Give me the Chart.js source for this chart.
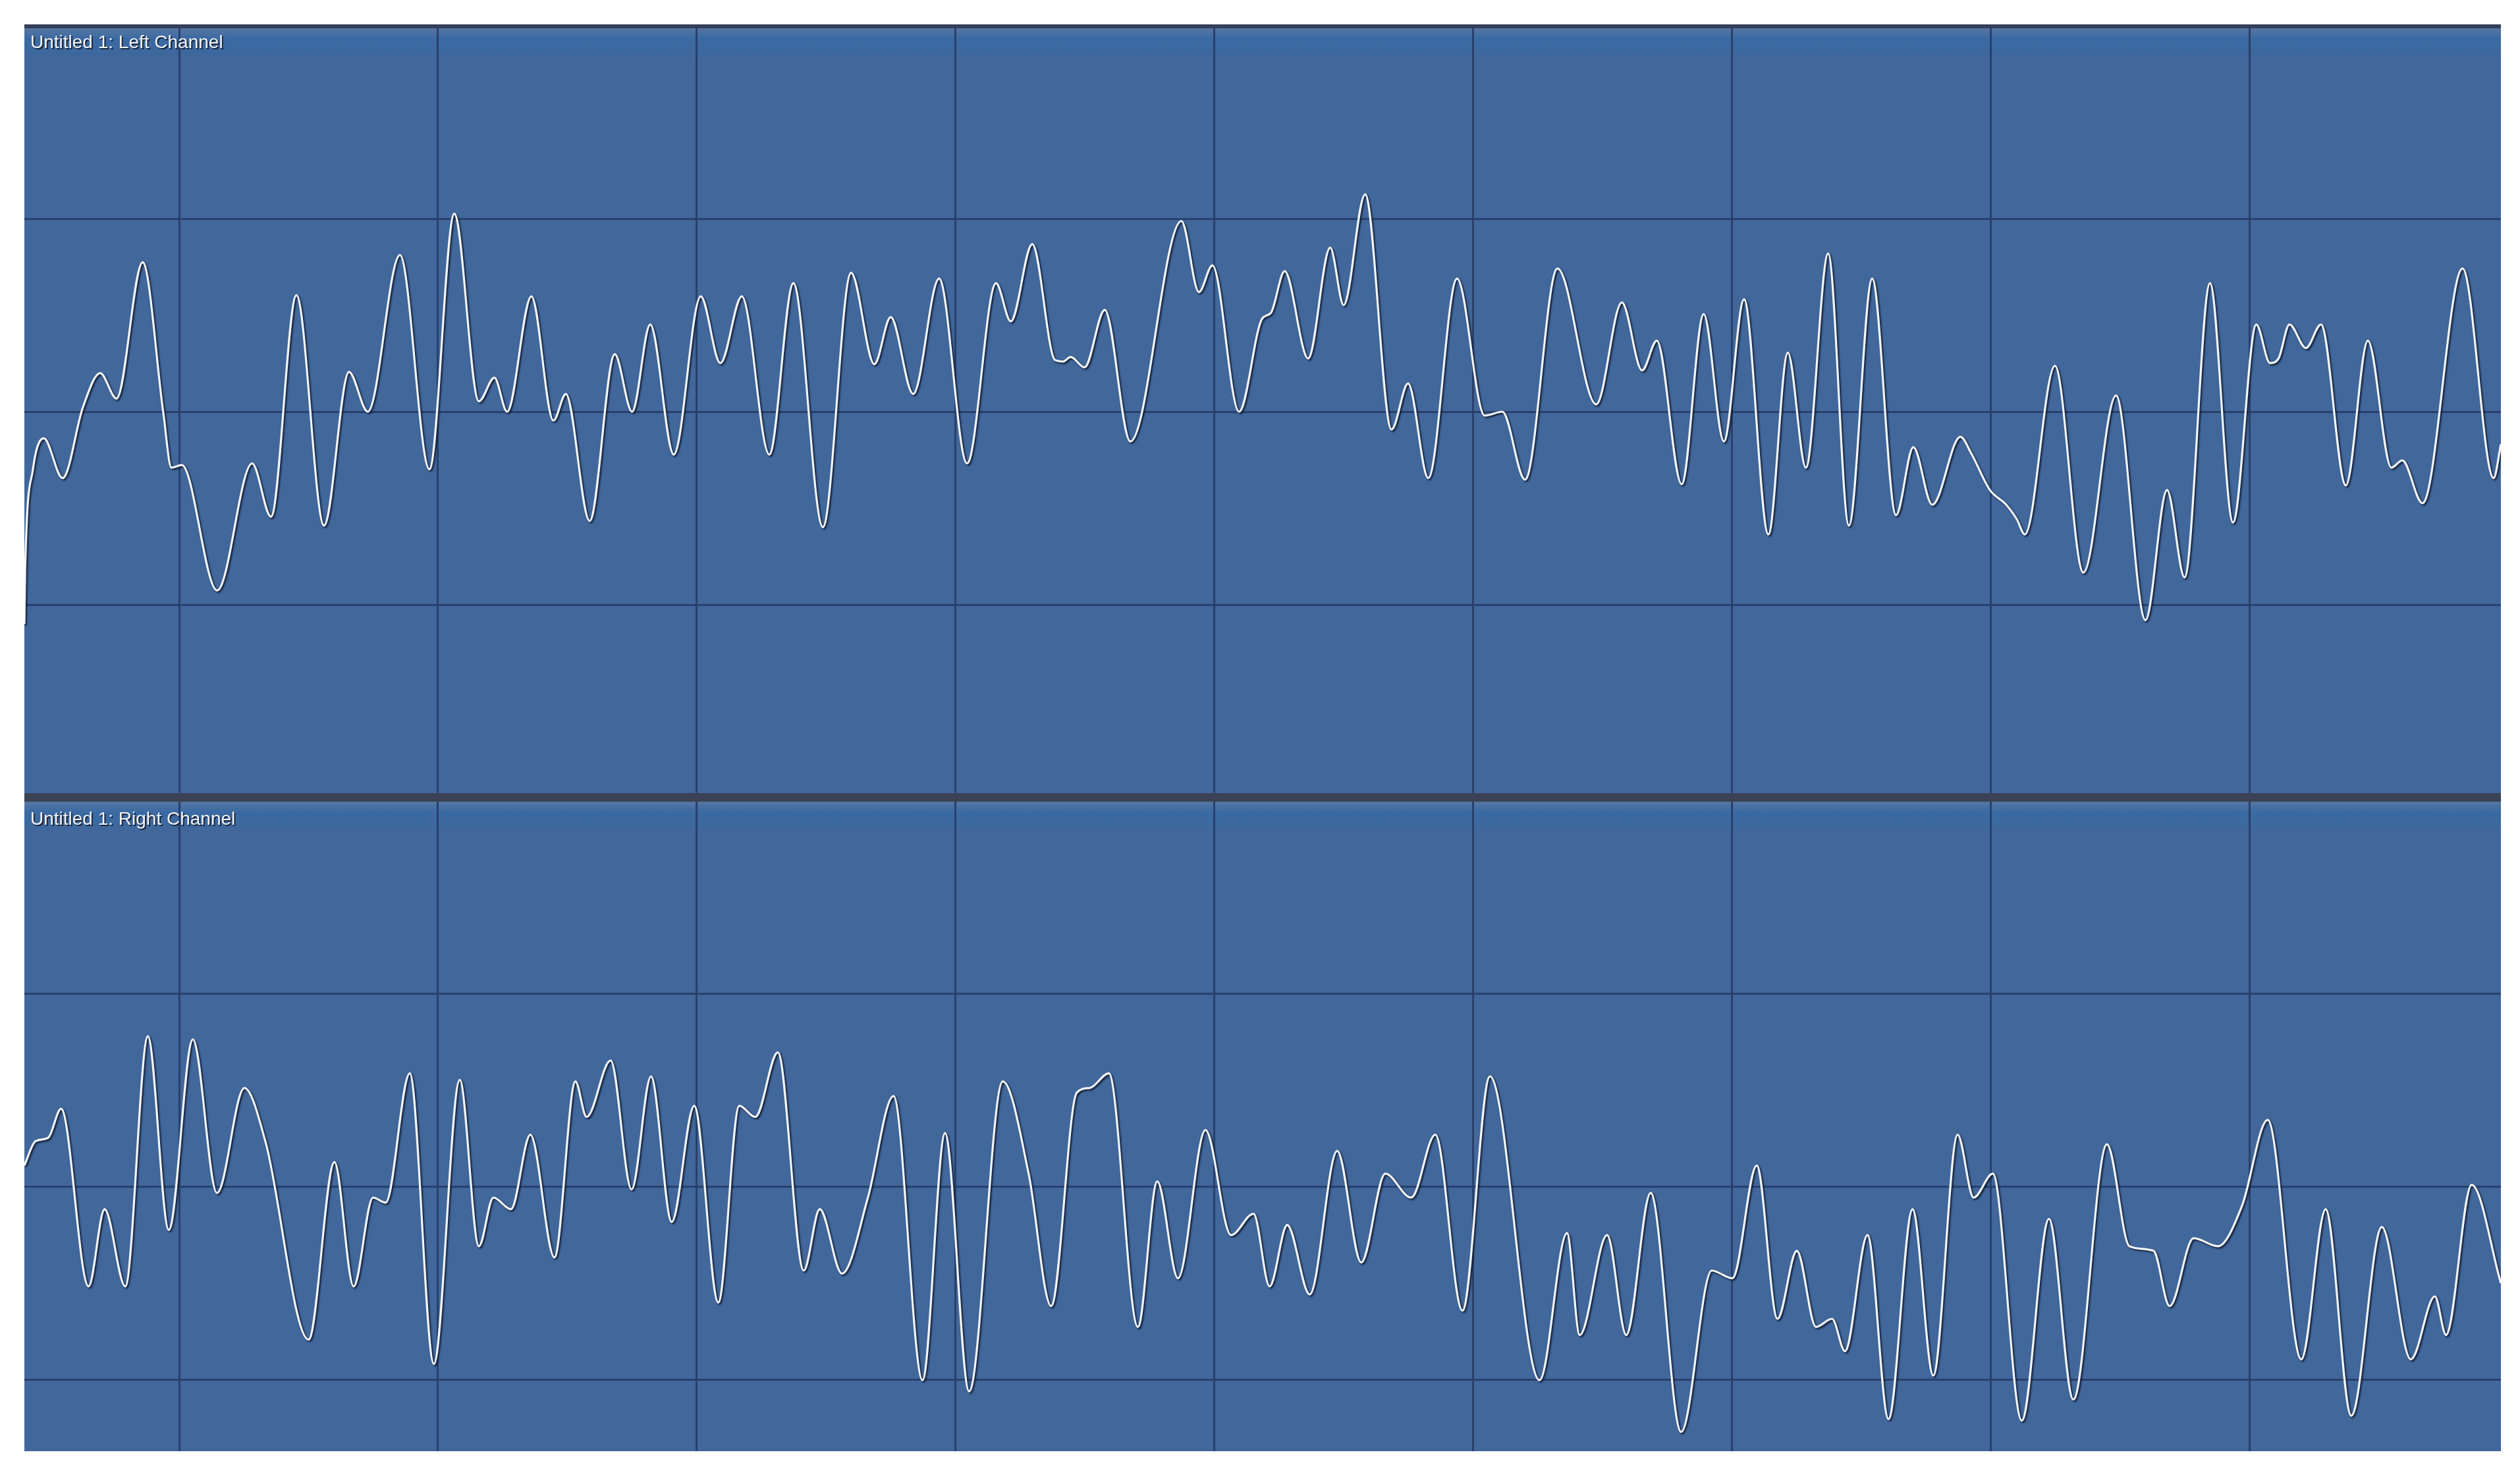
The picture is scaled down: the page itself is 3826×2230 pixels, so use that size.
<!DOCTYPE html>
<html>
<head>
<meta charset="utf-8">
<script src="https://cdn.jsdelivr.net/npm/chart.js@4.4.1/dist/chart.umd.min.js"></script>
<style>
  html, body { margin:0; padding:0; background:#ffffff; }
  body { width:3826px; height:2230px; position:relative; overflow:hidden; }
  .pane { position:absolute; left:37px; width:3760px; }
  .pane canvas { display:block; }
  .bar { position:absolute; left:37px; width:3760px; z-index:5; }
  .ttl { position:absolute; left:46px; z-index:6; font-family:"Liberation Sans", Arial, sans-serif;
         font-size:28px; line-height:28px; color:#f2f4f6; white-space:nowrap;
         text-shadow:2px 2px 0 #1a2740, 1px 1px 1px #1a2740; }
</style>
</head>
<body>
<div class="pane" style="top:39px;height:1172px;"><canvas id="left" width="3760" height="1172"></canvas></div>
<div class="pane" style="top:1215px;height:988px;"><canvas id="right" width="3760" height="988"></canvas></div>
<div class="bar" style="top:37px;height:6px;background:#343f5a;"></div>
<div class="bar" style="top:1204px;height:13px;background:#3b4254;"></div>
<div class="ttl" id="t1" style="top:50px;">Untitled 1: Left Channel</div>
<div class="ttl" id="t2" style="top:1229px;">Untitled 1: Right Channel</div>
<script>
// ---------- DATA ----------
const channelTitles = ["Untitled 1: Left Channel", "Untitled 1: Right Channel"];
const timeMin = 40.2;
const timeMax = 997;
const timeGrid = [100, 200, 300, 400, 500, 600, 700, 800, 900];
const ampGrid = [-0.5, 0, 0.5];

const leftX = [40.2, 40.5, 43.5, 47.7, 55.0, 62.8, 69.5, 75.8, 85.9, 93.9, 97.0, 101.0, 114.7, 128.2, 135.5, 145.3, 156.0, 165.6, 172.9, 185.3, 196.7,
  206.3, 215.8, 221.8, 226.7, 236.1, 244.6, 249.4, 258.6, 268.3, 275.0, 282.0, 291.1, 301.5, 309.1, 317.4, 328.0, 337.3, 348.7, 359.6,
  368.6, 374.9, 383.6, 393.6, 404.4, 415.6, 421.3, 429.6, 438.4, 441.5, 444.4, 449.8, 457.6, 467.5, 487.2, 494.0, 499.2, 509.5, 518.4,
  521.8, 527.1, 536.2, 544.7, 549.9, 558.2, 568.4, 574.8, 582.6, 593.7, 604.4, 611.2, 620.0, 632.5, 647.5, 657.4, 665.2, 670.9, 680.5,
  689.0, 696.8, 704.6, 714.0, 721.5, 728.5, 737.1, 745.1, 754.1, 763.3, 770.0, 777.3, 788.2, 792.3, 799.6, 805.9, 810.0, 813.1, 824.7, 835.7,
  848.3, 859.7, 868.0, 874.8, 884.6, 893.5, 902.5, 907.8, 911.1, 915.3, 921.7, 927.5, 937.1, 945.6, 954.7, 958.9, 966.7, 982.2, 994.2, 997.0];
const leftY = [-0.55, -0.41, -0.15, -0.069, -0.172, 0.011, 0.10, 0.034, 0.387, -0.004, -0.145, -0.138, -0.463, -0.134, -0.272, 0.302, -0.295, 0.103, 0.0, 0.406, -0.149,
  0.513, 0.027, 0.088, 0.0, 0.299, -0.023, 0.046, -0.283, 0.149, 0.0, 0.226, -0.111, 0.299, 0.126, 0.299, -0.111, 0.333, -0.299, 0.36,
  0.123, 0.245, 0.046, 0.345, -0.134, 0.333, 0.234, 0.434, 0.134, 0.13, 0.142, 0.115, 0.264, -0.077, 0.494, 0.31, 0.379, 0.0, 0.241,
  0.256, 0.364, 0.138, 0.425, 0.276, 0.563, -0.046, 0.073, -0.172, 0.345, -0.01, 0.0, -0.176, 0.371, 0.019, 0.283, 0.107, 0.184, -0.188,
  0.253, -0.077, 0.291, -0.318, 0.153, -0.145, 0.41, -0.295, 0.345, -0.268, -0.092, -0.241, -0.065, -0.107, -0.203, -0.241, -0.279, -0.318, 0.119, -0.417,
  0.042, -0.54, -0.203, -0.429, 0.333, -0.287, 0.226, 0.126, 0.138, 0.226, 0.165, 0.226, -0.191, 0.184, -0.145, -0.126, -0.237, 0.371, -0.172, -0.084];

const rightX = [40.2, 44.5, 49.4, 54.4, 65.0, 71.2, 79.2, 87.9, 96.0, 105.3, 114.6, 125.2, 133.3, 150.0, 160.0, 167.4, 174.9, 179.8, 189.1, 198.4,
  208.4, 215.8, 221.4, 228.2, 235.7, 245.0, 253.1, 257.4, 266.7, 274.8, 282.3, 290.3, 299.0, 308.3, 316.4, 322.6, 331.3, 341.3, 347.5, 356.1,
  366.1, 376.0, 387.2, 395.9, 405.2, 418.2, 428.2, 436.9, 446.8, 451.8, 459.2, 470.4, 477.9, 485.9, 496.5, 506.4, 515.1, 521.3, 528.1, 536.8,
  547.4, 556.7, 566.0, 576.0, 585.3, 595.8, 606.4, 625.6, 636.2, 641.1, 651.7, 659.1, 668.5, 680.3, 692.1, 700.1, 709.5, 717.5, 725.0, 732.4,
  738.6, 743.6, 752.3, 760.4, 769.7, 777.7, 787.1, 793.3, 800.7, 811.9, 822.4, 831.8, 844.8, 853.5, 862.8, 869.0, 878.3, 887.6, 897.0, 906.9,
  919.9, 929.3, 939.2, 951.0, 962.2, 971.5, 975.8, 985.7, 997.0];
const rightY = [0.054, 0.117, 0.126, 0.201, -0.259, -0.059, -0.259, 0.389, -0.113, 0.381, -0.017, 0.255, 0.117, -0.397, 0.063, -0.259, -0.029, -0.042, 0.293, -0.46,
  0.276, -0.155, -0.029, -0.059, 0.134, -0.184, 0.272, 0.18, 0.326, -0.008, 0.285, -0.092, 0.209, -0.301, 0.209, 0.18, 0.347, -0.218, -0.059, -0.226,
  -0.029, 0.234, -0.502, 0.138, -0.531, 0.272, 0.033, -0.31, 0.243, 0.255, 0.293, -0.364, 0.013, -0.238, 0.146, -0.126, -0.071, -0.259, -0.1, -0.28,
  0.092, -0.197, 0.033, -0.029, 0.134, -0.322, 0.285, -0.502, -0.121, -0.385, -0.126, -0.385, -0.017, -0.636, -0.218, -0.238, 0.054, -0.343, -0.167, -0.364,
  -0.343, -0.427, -0.126, -0.603, -0.059, -0.49, 0.134, -0.029, 0.033, -0.607, -0.084, -0.552, 0.109, -0.155, -0.167, -0.31, -0.134, -0.155, -0.05, 0.172,
  -0.448, -0.059, -0.594, -0.105, -0.448, -0.285, -0.385, 0.004, -0.251];

// ---------- RENDERING ----------
const BG = '#41679b';
const GRID = '#28406b';
const WAVE = '#f3f5f8';

const panelBg = {
  id: 'panelBg',
  beforeDraw(chart, args, opts) {
    const ctx = chart.ctx;
    ctx.save();
    ctx.fillStyle = BG;
    ctx.fillRect(0, 0, chart.width, chart.height);
    const g = ctx.createLinearGradient(0, opts.bandTop, 0, opts.bandTop + 44);
    g.addColorStop(0, 'rgba(88,118,160,1)');
    g.addColorStop(0.35, 'rgba(58,106,164,1)');
    g.addColorStop(0.85, 'rgba(60,104,158,0.9)');
    g.addColorStop(1, 'rgba(65,103,155,0)');
    ctx.fillStyle = g;
    ctx.fillRect(0, opts.bandTop, chart.width, 44);
    ctx.restore();
  }
};
const waveShadow = {
  id: 'waveShadow',
  beforeDatasetDraw(chart) {
    const ctx = chart.ctx;
    ctx.save();
    ctx.shadowColor = 'rgba(14,22,44,0.95)';
    ctx.shadowBlur = 2.5;
    ctx.shadowOffsetX = 2;
    ctx.shadowOffsetY = 2;
  },
  afterDatasetDraw(chart) { chart.ctx.restore(); }
};

function makeChart(id, title, xs, ys, yMin, yMax, bandTop) {
  const pts = xs.map((x, i) => ({ x: x, y: ys[i] }));
  return new Chart(document.getElementById(id), {
    type: 'line',
    data: { datasets: [{ label: title, data: pts, borderColor: WAVE, borderWidth: 3.2,
      pointRadius: 0, fill: false, cubicInterpolationMode: 'monotone' }] },
    options: {
      responsive: false, animation: false, devicePixelRatio: 1,
      layout: { padding: 0 },
      plugins: { legend: { display: false }, tooltip: { enabled: false }, title: { display: false },
                 panelBg: { bandTop: bandTop } },
      scales: {
        x: { type: 'linear', min: timeMin, max: timeMax,
             ticks: { display: false }, border: { display: false },
             grid: { color: GRID, lineWidth: 3, drawTicks: false },
             afterBuildTicks: s => { s.ticks = timeGrid.map(v => ({ value: v })); },
             afterFit: s => { s.height = 0; } },
        y: { type: 'linear', min: yMin, max: yMax,
             ticks: { display: false }, border: { display: false },
             grid: { color: GRID, lineWidth: 3, drawTicks: false },
             afterBuildTicks: s => { s.ticks = ampGrid.map(v => ({ value: v })); },
             afterFit: s => { s.width = 0; } }
      }
    },
    plugins: [panelBg, waveShadow]
  });
}

makeChart('left', channelTitles[0], leftX, leftY, -1, 1, 4);
makeChart('right', channelTitles[1], rightX, rightY, -0.686, 1, 2);
</script>
</body>
</html>
